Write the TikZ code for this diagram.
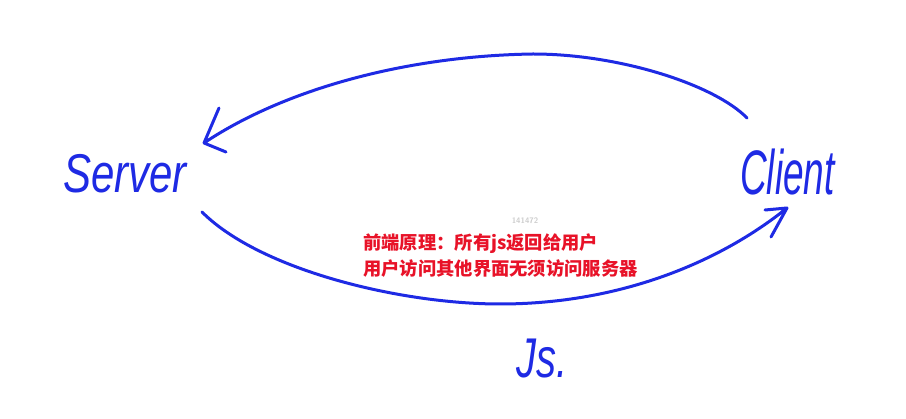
\documentclass[tikz,border=0pt]{standalone}
\usepackage{fontspec}
\newfontfamily\cjk{Noto Sans CJK SC}
\newfontfamily\hand{Liberation Sans}
\definecolor{pen}{RGB}{30,42,228}
\definecolor{note}{RGB}{232,18,40}
\definecolor{wmark}{RGB}{205,205,205}
\tikzset{
  penline/.style={draw=pen, line width=3pt, line cap=round, line join=round},
  handtext/.style={text=pen, inner sep=0pt, anchor=base west},
  notetext/.style={text=note, inner sep=0pt, anchor=base west, align=left,
    font=\cjk\bfseries\fontsize{18.3}{26}\selectfont},
}
\begin{document}
\begin{tikzpicture}[x=1pt,y=-1pt]
\useasboundingbox[fill=white] (0,0) rectangle (906,419);
% handwritten labels
\node[handtext, font=\hand\itshape\fontsize{42}{42}\selectfont] (server) at (63,193) {\scalebox{1}[1.3]{Server}};
\node[handtext, font=\hand\itshape\fontsize{37}{37}\selectfont] (client) at (740,195) {\scalebox{1}[1.7]{Client}};
\node[handtext, font=\hand\itshape\fontsize{40}{40}\selectfont] (js) at (516,378) {\scalebox{1}[1.4]{Js.}};
% watermark
\node[text=wmark, inner sep=0pt, font=\sffamily\bfseries\fontsize{8}{8}\selectfont] (wm) at (525,221) {141472};
% red note (base anchor = baseline of the last line)
\node[notetext] (note) at (363,276) {前端原理：所有js返回给用户\\用户访问其他界面无须访问服务器};
% connector end points
\coordinate (cStart) at (747,118);
\coordinate (sTip) at (204,143);
\coordinate (sStart) at (202,212);
\coordinate (cTip) at (787,208);
% top arrow: client -> server
\draw[penline] (cStart) .. controls (715,85) and (620,54) .. (533,54)
  .. controls (400,56) and (280,92) .. (sTip)
  (sTip) -- ++(15,-35) (sTip) -- ++(22,9);
% bottom arrow: server -> client
\draw[penline] (sStart) .. controls (260,270) and (400,304) .. (500,304)
  .. controls (620,304) and (720,262) .. (cTip)
  (cTip) -- ++(-22,2) (cTip) -- ++(-16,29);
\end{tikzpicture}
\end{document}
